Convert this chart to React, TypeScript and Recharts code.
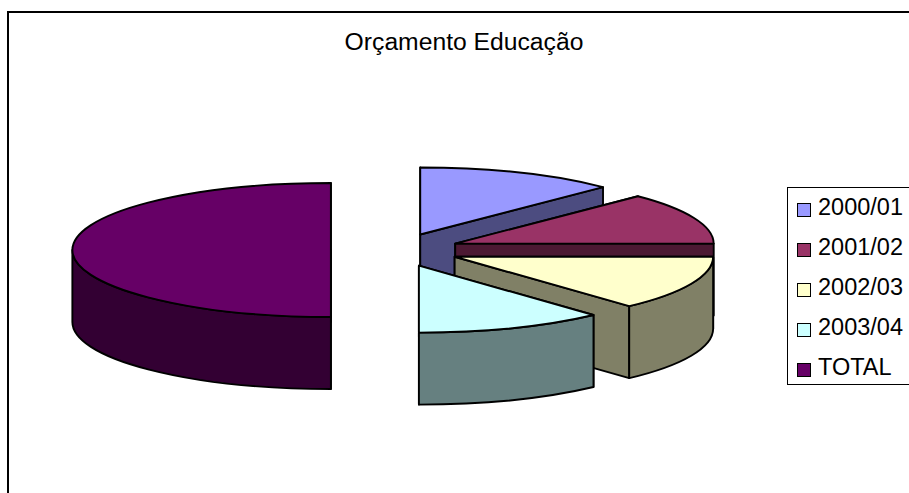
import { Legend, Pie, PieChart, Cell } from "recharts";

const YEARS = ["2000/01", "2001/02", "2002/03", "2003/04", "TOTAL"];
const BUDGET = [12.5, 12.5, 13.2, 11.8, 50];
const TOP_COLORS = ["#9999ff", "#993366", "#ffffcc", "#ccffff", "#660066"];
const SIDE_COLORS = ["#4c4c80", "#4c1933", "#808066", "#668080", "#330033"];

const rows = YEARS.map((name, i) => ({ name, value: BUDGET[i] }));

const RX = 258.5;
const RY = 67;
const DEPTH = 72;
const EXPLODE = 0.25;
const LINE = "#000";

const rad = (a: number) => (a * Math.PI) / 180;

// flattened 3D slice: recharts gives the angles, we tilt them onto an ellipse
function Slice3D(props: any) {
  const { cx, cy, startAngle, endAngle, index } = props;
  const mid = (startAngle + endAngle) / 2;
  const ox = cx + EXPLODE * RX * Math.cos(rad(mid));
  const oy = cy - EXPLODE * RY * Math.sin(rad(mid));
  const px = (a: number) => ox + RX * Math.cos(rad(a));
  const py = (a: number) => oy - RY * Math.sin(rad(a));
  const side = SIDE_COLORS[index];
  const top = TOP_COLORS[index];
  const large = startAngle - endAngle > 180 ? 1 : 0;

  const face = (a: number) =>
    `M${ox},${oy}L${px(a)},${py(a)}L${px(a)},${py(a) + DEPTH}L${ox},${oy + DEPTH}Z`;

  // only the front half of the rim can be seen
  const wallFrom = Math.min(startAngle, 0);
  const wallTo = Math.max(endAngle, -180);
  const wall =
    wallFrom > wallTo
      ? `M${px(wallFrom)},${py(wallFrom)}A${RX},${RY} 0 0 1 ${px(wallTo)},${py(wallTo)}` +
        `L${px(wallTo)},${py(wallTo) + DEPTH}A${RX},${RY} 0 0 0 ${px(wallFrom)},${py(wallFrom) + DEPTH}Z`
      : null;

  return (
    <g stroke={LINE} strokeWidth={1.9} strokeLinejoin="round">
      <path d={face(startAngle)} fill={side} />
      <path d={face(endAngle)} fill={side} />
      {wall && <path d={wall} fill={side} />}
      <path
        d={`M${ox},${oy}L${px(startAngle)},${py(startAngle)}A${RX},${RY} 0 ${large} 1 ${px(endAngle)},${py(endAngle)}Z`}
        fill={top}
      />
    </g>
  );
}

function BoxLegend({ payload }: any) {
  return (
    <div
      style={{
        boxSizing: "border-box",
        width: 130,
        height: 198,
        border: "1px solid #000",
        background: "#fff",
      }}
    >
      {(payload || []).map((p: any) => (
        <div key={p.value} style={{ display: "flex", alignItems: "center", height: 40, paddingLeft: 9 }}>
          <span
            style={{
              boxSizing: "border-box",
              width: 14,
              height: 14,
              border: "1.5px solid #000",
              background: p.color,
              marginRight: 7,
              marginTop: 4,
            }}
          />
          <span style={{ fontSize: 23.5, lineHeight: "38px", marginTop: -2, color: "#000" }}>{p.value}</span>
        </div>
      ))}
    </div>
  );
}

export default function App() {
  return (
    <div
      style={{
        position: "absolute",
        left: 0,
        top: 0,
        width: 909,
        height: 493,
        overflow: "hidden",
        background: "#fff",
        fontFamily: "'Liberation Sans', Arial, sans-serif",
      }}
    >
      <div
        style={{
          position: "absolute",
          left: 7,
          top: 11,
          width: 1000,
          height: 600,
          border: "2px solid #000",
        }}
      />
      <PieChart width={909} height={493} margin={{ top: 0, right: 0, bottom: 0, left: 0 }}>
        <text x={464} y={50} textAnchor="middle" fontSize={24.7} fill="#000">
          Orçamento Educação
        </text>
        <Pie
          data={rows}
          dataKey="value"
          nameKey="name"
          cx={395.5}
          cy={250}
          outerRadius={RX}
          startAngle={90}
          endAngle={-270}
          paddingAngle={0}
          shape={Slice3D}
          isAnimationActive={false}
        >
          {rows.map((r, i) => (
            <Cell key={r.name} fill={TOP_COLORS[i]} />
          ))}
        </Pie>
        <Legend
          content={<BoxLegend />}
          layout="vertical"
          wrapperStyle={{ position: "absolute", left: 787, top: 187, width: 130, height: 198 }}
        />
      </PieChart>
    </div>
  );
}
